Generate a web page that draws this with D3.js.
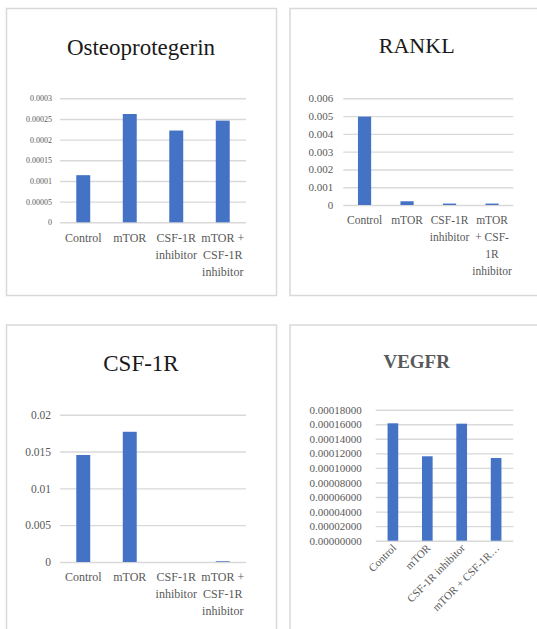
<!DOCTYPE html>
<html>
<head>
<meta charset="utf-8">
<script src="https://cdn.jsdelivr.net/npm/d3@7"></script>
<style>
  html, body { margin: 0; padding: 0; background: #fff; }
  svg { display: block; }
</style>
</head>
<body>
<svg id="chart" width="537" height="629" font-family="'Liberation Serif', 'Times New Roman', serif"></svg>
<script>
// Treatment groups shared by all four panels
const categories = ["Control", "mTOR", "CSF-1R inhibitor", "mTOR + CSF-1R inhibitor"];

// Relative expression per group
const opgValues   = [0.000114, 0.000262, 0.000222, 0.000246];
const ranklValues = [0.00497, 0.00021, 0.00008, 0.00008];
const csf1rValues = [0.01453, 0.01768, 0, 0.0001];
const vegfrValues = [0.0001613, 0.000116, 0.0001608, 0.0001136];

// Y-axis tick values
const opgTicks   = [0, 0.00005, 0.0001, 0.00015, 0.0002, 0.00025, 0.0003];
const ranklTicks = [0, 0.001, 0.002, 0.003, 0.004, 0.005, 0.006];
const csf1rTicks = [0, 0.005, 0.01, 0.015, 0.02];
const vegfrTicks = [0, 0.00002, 0.00004, 0.00006, 0.00008, 0.0001, 0.00012, 0.00014, 0.00016, 0.00018];

// Category label line breaks for the wrapped (non-rotated) panels
const wrapWide   = [["Control"], ["mTOR"], ["CSF-1R", "inhibitor"], ["mTOR +", "CSF-1R", "inhibitor"]];
const wrapNarrow = [["Control"], ["mTOR"], ["CSF-1R", "inhibitor"], ["mTOR", "+ CSF-", "1R", "inhibitor"]];
const rotatedLabels = ["Control", "mTOR", "CSF-1R inhibitor", "mTOR + CSF-1R\u2026"];

const FONT = "'Liberation Serif', 'Times New Roman', serif";
const BAR = "#4472C4", GRID = "#d9d9d9", LABEL = "#595959";
const svg = d3.select("#chart");

function panel(cfg) {
  const g = svg.append("g").attr("font-family", FONT);
  g.append("rect")
    .attr("x", cfg.box[0]).attr("y", cfg.box[1])
    .attr("width", cfg.box[2]).attr("height", cfg.box[3])
    .attr("fill", "#fff").attr("stroke", GRID).attr("stroke-width", 1.5);

  g.append("text")
    .attr("x", cfg.title.x).attr("y", cfg.title.y)
    .attr("text-anchor", "middle")
    .attr("font-family", FONT)
    .attr("font-size", cfg.title.size)
    .attr("font-weight", cfg.title.bold ? "bold" : "normal")
    .attr("fill", cfg.title.color)
    .text(cfg.title.text);

  const x = d3.scaleBand().domain(categories).range([cfg.x0, cfg.x1]).padding(0);
  const y = d3.scaleLinear().domain([0, d3.max(cfg.ticks)]).range([cfg.yBottom, cfg.yTop]);

  const axis = d3.axisLeft(y)
    .tickValues(cfg.ticks)
    .tickSize(-(cfg.x1 - cfg.x0))
    .tickPadding(cfg.tickPad)
    .tickFormat(cfg.fmt);
  const ag = g.append("g").attr("transform", `translate(${cfg.x0},0)`).call(axis)
    .attr("font-family", FONT);
  ag.select(".domain").remove();
  ag.selectAll(".tick line").attr("stroke", GRID).attr("stroke-width", 1.4);
  ag.selectAll(".tick text")
    .attr("fill", LABEL)
    .attr("font-family", FONT)
    .attr("font-size", cfg.tickSize);

  const bw = x.bandwidth() * cfg.barFrac;
  g.selectAll("rect.bar").data(cfg.values).enter().append("rect")
    .attr("class", "bar")
    .attr("x", (d, i) => x(categories[i]) + (x.bandwidth() - bw) / 2)
    .attr("width", bw)
    .attr("y", d => y(d))
    .attr("height", d => cfg.yBottom - y(d))
    .attr("fill", BAR);

  if (cfg.rotated) {
    g.selectAll("text.cat").data(cfg.rotated).enter().append("text")
      .attr("class", "cat")
      .attr("text-anchor", "end")
      .attr("font-family", FONT)
      .attr("font-size", cfg.catSize)
      .attr("fill", LABEL)
      .attr("transform", (d, i) => {
        const cx = x(categories[i]) + x.bandwidth() / 2 + 4;
        return `translate(${cx},${cfg.yBottom + 8}) rotate(-45)`;
      })
      .text(d => d);
  } else {
    cfg.wrap.forEach((lines, i) => {
      const cx = x(categories[i]) + x.bandwidth() / 2;
      const t = g.append("text")
        .attr("text-anchor", "middle")
        .attr("font-family", FONT)
        .attr("font-size", cfg.catSize)
        .attr("fill", LABEL);
      lines.forEach((ln, j) => {
        t.append("tspan").attr("x", cx).attr("y", cfg.catY + j * 17).text(ln);
      });
    });
  }
}

panel({
  box: [6.5, 8.5, 270, 287],
  title: { text: "Osteoprotegerin", x: 141, y: 55, size: 23, color: "#1a1a1a" },
  x0: 60, x1: 246, yTop: 98.3, yBottom: 222.3,
  ticks: opgTicks, fmt: d3.format("~f"), tickSize: 8, tickPad: 8,
  values: opgValues, barFrac: 0.3,
  wrap: wrapWide, catSize: 12, catY: 242
});

panel({
  box: [290, 8.5, 262, 287],
  title: { text: "RANKL", x: 416.7, y: 53, size: 22, color: "#1a1a1a" },
  x0: 343.3, x1: 513.3, yTop: 98.3, yBottom: 205,
  ticks: ranklTicks, fmt: d3.format("~f"), tickSize: 11, tickPad: 10,
  values: ranklValues, barFrac: 0.31,
  wrap: wrapNarrow, catSize: 11.5, catY: 224
});

panel({
  box: [6.5, 325, 270, 320],
  title: { text: "CSF-1R", x: 141, y: 371, size: 23, color: "#1a1a1a" },
  x0: 60, x1: 246, yTop: 414.7, yBottom: 562,
  ticks: csf1rTicks, fmt: d3.format("~f"), tickSize: 11.5, tickPad: 9,
  values: csf1rValues, barFrac: 0.3,
  wrap: wrapWide, catSize: 12, catY: 581
});

panel({
  box: [290, 325, 262, 320],
  title: { text: "VEGFR", x: 416.7, y: 368, size: 19, bold: true, color: "#595959" },
  x0: 375.7, x1: 513.3, yTop: 409.7, yBottom: 540.7,
  ticks: vegfrTicks, fmt: d3.format(".8f"), tickSize: 11, tickPad: 14,
  values: vegfrValues, barFrac: 0.31,
  rotated: rotatedLabels, catSize: 11
});
</script>
</body>
</html>
